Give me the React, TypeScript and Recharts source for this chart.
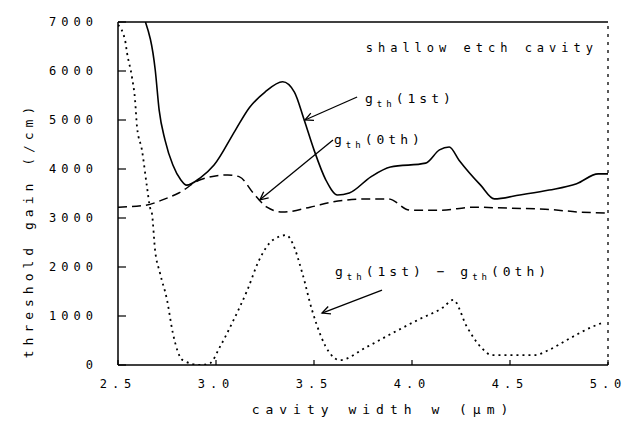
import { LineChart, Line, XAxis, YAxis, ReferenceLine } from 'recharts'

const W = 632
const H = 422
const FONT = '"DejaVu Sans Mono", "Liberation Mono", monospace'

const X_TICKS = [2.5, 3.0, 3.5, 4.0, 4.5, 5.0]
const Y_TICKS = [0, 1000, 2000, 3000, 4000, 5000, 6000, 7000]

// g_th(1st) — solid
const W_1ST = [2.64, 2.69, 2.71, 2.74, 2.78, 2.82, 2.85, 2.92, 2.99, 3.10, 3.17, 3.25, 3.34, 3.40, 3.45, 3.50, 3.56, 3.62, 3.68, 3.79, 3.89, 4.07, 4.14, 4.19, 4.24, 4.35, 4.42, 4.55, 4.70, 4.84, 4.95, 5.0]
const G_1ST = [7000, 6020, 5200, 4590, 4080, 3780, 3670, 3820, 4080, 4800, 5250, 5570, 5780, 5570, 5000, 4390, 3780, 3470, 3510, 3840, 4040, 4120, 4390, 4450, 4180, 3670, 3390, 3470, 3570, 3700, 3900, 3900]

// g_th(0th) — dashed
const W_0TH = [2.5, 2.64, 2.74, 2.81, 2.92, 3.06, 3.12, 3.19, 3.26, 3.34, 3.48, 3.60, 3.77, 3.88, 3.99, 4.15, 4.31, 4.50, 4.68, 4.86, 5.0]
const G_0TH = [3220, 3260, 3390, 3510, 3780, 3880, 3840, 3510, 3220, 3120, 3220, 3330, 3390, 3390, 3160, 3160, 3220, 3200, 3180, 3120, 3100]

// g_th(1st) - g_th(0th) — dotted
const W_DIFF = [2.5, 2.536, 2.546, 2.571, 2.587, 2.597, 2.622, 2.648, 2.663, 2.673, 2.689, 2.714, 2.75, 2.78, 2.83, 2.92, 2.97, 3.02, 3.09, 3.16, 3.22, 3.29, 3.36, 3.39, 3.44, 3.49, 3.58, 3.63, 3.77, 3.90, 4.03, 4.16, 4.21, 4.28, 4.35, 4.41, 4.62, 4.70, 4.79, 4.92, 4.97]
const G_DIFF = [6940, 6630, 6370, 5880, 5410, 4860, 4390, 3630, 3220, 3100, 2350, 1880, 1330, 650, 100, 0, 40, 370, 920, 1530, 2140, 2550, 2650, 2490, 1880, 1120, 245, 100, 370, 650, 920, 1180, 1330, 780, 370, 200, 200, 310, 510, 780, 860]

const toRows = (xs: number[], ys: number[]) => xs.map((w, i) => ({ w, g: ys[i] }))
const first = toRows(W_1ST, G_1ST)
const zeroth = toRows(W_0TH, G_0TH)
const diff = toRows(W_DIFF, G_DIFF)

function XTick({ x, y, payload }: any) {
  return (
    <g>
      <line x1={x} x2={x} y1={y} y2={y - 5} stroke="#000" strokeWidth={1.2} />
      <text x={x} y={y + 23} textAnchor="middle" fontFamily={FONT} fontSize={12} letterSpacing={5} fill="#000">
        {payload.value.toFixed(1)}
      </text>
    </g>
  )
}

function YTick({ x, y, payload }: any) {
  return (
    <g>
      <line x1={x} x2={x + 8} y1={y} y2={y} stroke="#000" strokeWidth={1.2} />
      <text x={x - 20} y={y + 4} textAnchor="end" fontFamily={FONT} fontSize={12} letterSpacing={5} fill="#000">
        {payload.value}
      </text>
    </g>
  )
}

// line with an open arrowhead at (x2, y2)
function Arrow({ x1, y1, x2, y2 }: any) {
  const a = Math.atan2(y2 - y1, x2 - x1)
  const len = 9
  const p1 = [x2 - len * Math.cos(a - 0.45), y2 - len * Math.sin(a - 0.45)]
  const p2 = [x2 - len * Math.cos(a + 0.45), y2 - len * Math.sin(a + 0.45)]
  return (
    <g stroke="#000" strokeWidth={1.3} fill="none">
      <line x1={x1} y1={y1} x2={x2} y2={y2} />
      <polyline points={`${p1[0]},${p1[1]} ${x2},${y2} ${p2[0]},${p2[1]}`} />
    </g>
  )
}

function G({ sup }: { sup: string }) {
  return (
    <>
      <tspan>g</tspan>
      <tspan fontSize={9} dy={4}>th</tspan>
      <tspan dy={-4}>({sup})</tspan>
    </>
  )
}

export default function App() {
  const txt = { fontFamily: FONT, fontSize: 13, letterSpacing: 4, fill: '#000' }
  return (
    <div style={{ position: 'absolute', left: 0, top: 0, width: W, height: H, background: '#fff' }}>
      <LineChart width={W} height={H} margin={{ top: 22, right: 24, left: 0, bottom: 0 }}>
        <XAxis dataKey="w" type="number" domain={[2.5, 5]} ticks={X_TICKS} interval={0}
          height={57} tickSize={0} tickMargin={0} tick={<XTick />} axisLine={{ stroke: '#000', strokeWidth: 1.5 }} allowDataOverflow />
        <YAxis type="number" domain={[0, 7000]} ticks={Y_TICKS} interval={0}
          width={118} tickSize={0} tickMargin={0} tick={<YTick />} axisLine={{ stroke: '#000', strokeWidth: 1.5 }} allowDataOverflow />
        <ReferenceLine y={7000} stroke="#000" strokeWidth={1.5} />
        <ReferenceLine x={5} stroke="#000" strokeWidth={1.3} strokeDasharray="3 5" />

        <Line data={first} dataKey="g" type="monotone" stroke="#000" strokeWidth={1.6} dot={false} isAnimationActive={false} />
        <Line data={zeroth} dataKey="g" type="monotone" stroke="#000" strokeWidth={1.5} strokeDasharray="9 5" dot={false} isAnimationActive={false} />
        <Line data={diff} dataKey="g" type="monotone" stroke="#000" strokeWidth={1.8} strokeDasharray="2 4" dot={false} isAnimationActive={false} />

        <ReferenceLine segment={[{ x: 3.72, y: 5470 }, { x: 3.454, y: 5000 }]} shape={(p: any) => <Arrow {...p} />} />
        <ReferenceLine segment={[{ x: 3.597, y: 4590 }, { x: 3.224, y: 3370 }]} shape={(p: any) => <Arrow {...p} />} />
        <ReferenceLine segment={[{ x: 3.847, y: 1530 }, { x: 3.541, y: 1060 }]} shape={(p: any) => <Arrow {...p} />} />
      </LineChart>

      <svg width={W} height={H} style={{ position: 'absolute', left: 0, top: 0, pointerEvents: 'none' }}>
        <text x={598} y={52} textAnchor="end" {...txt} fontSize={12} letterSpacing={5}>shallow etch cavity</text>
        <text x={365} y={103} {...txt}><G sup="1st" /></text>
        <text x={334} y={144} {...txt}><G sup="0th" /></text>
        <text x={335} y={276} {...txt}><G sup="1st" /><tspan> − </tspan><G sup="0th" /></text>
        <text x={383} y={414} textAnchor="middle" {...txt} letterSpacing={6}>cavity width  w (μm)</text>
        <text transform="translate(33,230) rotate(-90)" textAnchor="middle" {...txt} letterSpacing={5}>threshold gain  (/cm)</text>
      </svg>
    </div>
  )
}
